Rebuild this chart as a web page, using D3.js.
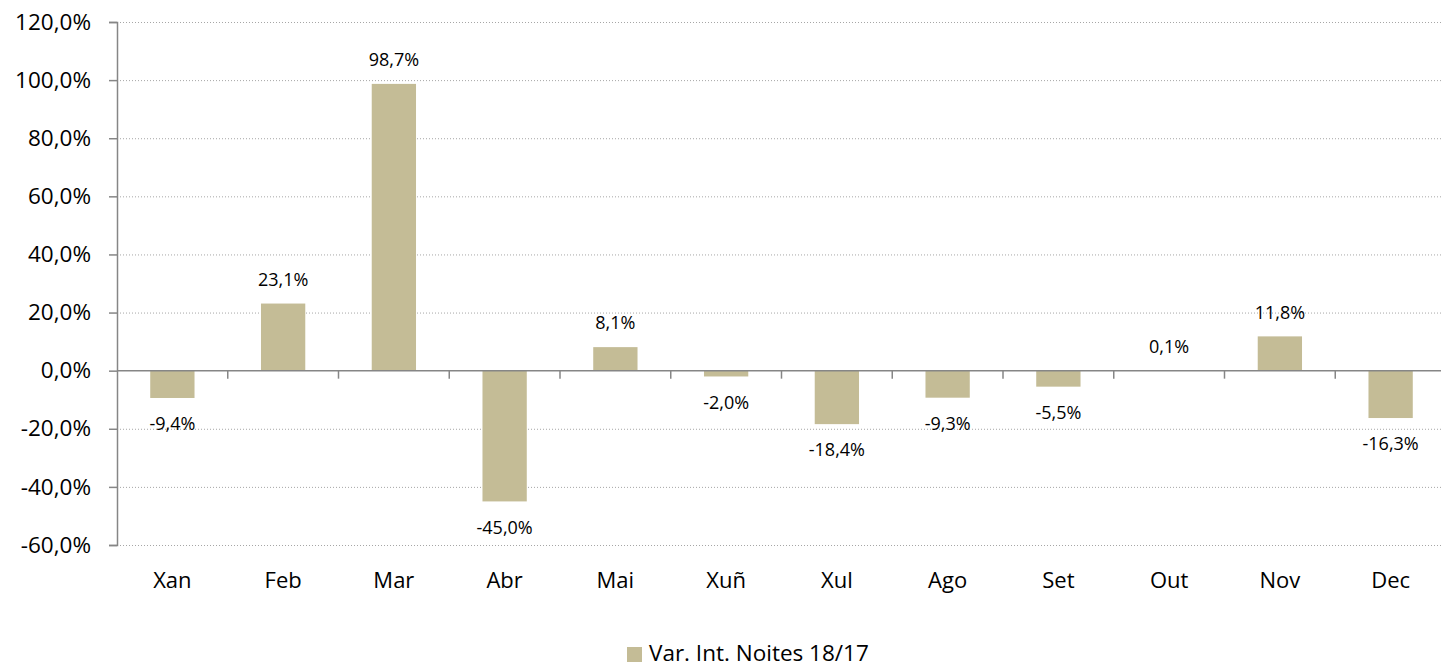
<!DOCTYPE html>
<html>
<head>
<meta charset="utf-8">
<script src="https://cdn.jsdelivr.net/npm/d3@7"></script>
<style>
  body { margin: 0; background: #fff; overflow: hidden; }
  text { font-family: "Open Sans", sans-serif; fill: #000; }
</style>
</head>
<body>
<svg id="chart" width="1441" height="669"></svg>
<script>
"use strict";

var months = ["Xan", "Feb", "Mar", "Abr", "Mai", "Xuñ", "Xul", "Ago", "Set", "Out", "Nov", "Dec"];
var variation = [-9.4, 23.1, 98.7, -45.0, 8.1, -2.0, -18.4, -9.3, -5.5, 0.1, 11.8, -16.3];
var yTicks = [-60, -40, -20, 0, 20, 40, 60, 80, 100, 120];
var seriesName = "Var. Int. Noites 18/17";

// the plot area runs a little past the right edge of the picture
var margin = { l: 117, r: -5, t: 22, b: 124 },
  width = 1441, height = 669;

var svg = d3.select("#chart");
var fmt = function(v) { return d3.format(".1f")(v).replace(".", ",").replace("\u2212", "-") + "%"; };

var x = d3.scaleBand()
  .domain(months)
  .range([margin.l, width - margin.r])
  .paddingInner(0.6)
  .paddingOuter(0.3);

var y = d3.scaleLinear()
  .domain([-60, 120])
  .range([height - margin.b, margin.t]);

// gridlines
svg.append("g")
  .selectAll("line")
  .data(yTicks.filter(function(d) { return d !== 0; }))
  .join("line")
  .attr("x1", margin.l)
  .attr("x2", width - margin.r)
  .attr("y1", function(d) { return y(d) + 0.5; })
  .attr("y2", function(d) { return y(d) + 0.5; })
  .attr("stroke", "#a6a6a6")
  .attr("stroke-width", 1)
  .attr("stroke-dasharray", "1,2");

// y axis
var yAxis = svg.append("g")
  .attr("transform", "translate(" + margin.l + ",0)")
  .call(d3.axisLeft(y).tickValues(yTicks).tickFormat(fmt).tickSize(8).tickPadding(18));
yAxis.select(".domain").attr("stroke", "#868686").attr("stroke-width", 1.5);
yAxis.selectAll(".tick line").attr("stroke", "#868686").attr("stroke-width", 1.5);
yAxis.selectAll("text").attr("font-size", 22.5).attr("font-family", "'Open Sans', sans-serif").attr("fill", "#000");

// bars
svg.append("g")
  .selectAll("rect")
  .data(variation)
  .join("rect")
  .attr("x", function(d, i) { return x(months[i]); })
  .attr("width", x.bandwidth())
  .attr("y", function(d) { return y(Math.max(0, d)); })
  .attr("height", function(d) { return Math.abs(y(d) - y(0)); })
  .attr("fill", "#c4bc96");

// zero axis with category ticks between months
var bounds = months.slice(1).map(function(m) { return x(m) - x.step() * x.paddingInner() / 2; });
var zeroG = svg.append("g");
zeroG.append("line")
  .attr("x1", margin.l).attr("x2", width - margin.r)
  .attr("y1", y(0)).attr("y2", y(0))
  .attr("stroke", "#868686").attr("stroke-width", 1.5);
zeroG.selectAll("line.tk")
  .data(bounds)
  .join("line")
  .attr("class", "tk")
  .attr("x1", function(d) { return d; })
  .attr("x2", function(d) { return d; })
  .attr("y1", y(0))
  .attr("y2", y(0) + 8)
  .attr("stroke", "#868686").attr("stroke-width", 1.5);

// data labels
svg.append("g")
  .selectAll("text")
  .data(variation)
  .join("text")
  .attr("x", function(d, i) { return x(months[i]) + x.bandwidth() / 2; })
  .attr("y", function(d) { return d >= 0 ? y(d) - 24 : y(d) + 26; })
  .attr("dy", "0.35em")
  .attr("text-anchor", "middle")
  .attr("font-size", 18)
  .text(fmt);

// category labels
svg.append("g")
  .selectAll("text")
  .data(months)
  .join("text")
  .attr("x", function(d) { return x(d) + x.bandwidth() / 2; })
  .attr("y", 580)
  .attr("dy", "0.35em")
  .attr("text-anchor", "middle")
  .attr("font-size", 22)
  .text(function(d) { return d; });

// legend
var legend = svg.append("g").attr("transform", "translate(627,647)");
legend.append("rect").attr("width", 15).attr("height", 15).attr("fill", "#c4bc96");
legend.append("text").attr("x", 22).attr("y", 14).attr("font-size", 22.5).text(seriesName);
</script>
</body>
</html>
